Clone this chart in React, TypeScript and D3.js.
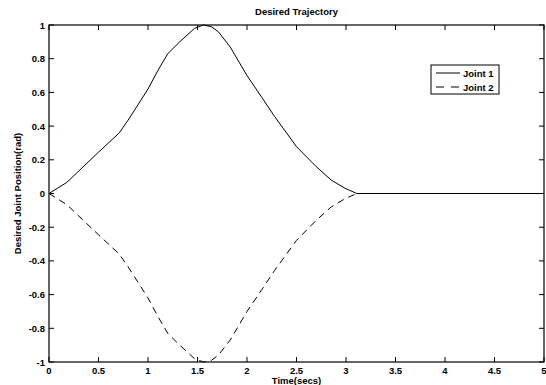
import React from "react";
import * as d3 from "d3";

const times = [0, 0.18, 0.5, 0.71, 0.8, 1.0, 1.1, 1.2, 1.32, 1.47, 1.56, 1.64, 1.71, 1.83, 1.92, 2.0, 2.15, 2.28, 2.5, 2.7, 2.85, 2.99, 3.11, 5];
const joint1 = [0, 0.066, 0.245, 0.36, 0.436, 0.62, 0.73, 0.83, 0.9, 0.98, 1.0, 0.99, 0.96, 0.87, 0.78, 0.7, 0.57, 0.456, 0.278, 0.159, 0.08, 0.031, 0.0, 0];
const joint2 = [0, -0.066, -0.245, -0.36, -0.436, -0.62, -0.73, -0.83, -0.9, -0.98, -1.0, -0.99, -0.96, -0.87, -0.78, -0.7, -0.57, -0.456, -0.278, -0.159, -0.08, -0.031, 0.0, 0];
const xTicks = [0, 0.5, 1, 1.5, 2, 2.5, 3, 3.5, 4, 4.5, 5];
const yTicks = [-1, -0.8, -0.6, -0.4, -0.2, 0, 0.2, 0.4, 0.6, 0.8, 1];
const seriesNames = ["Joint 1", "Joint 2"];

const W = 546, H = 385;
const L = 49, R = 544, T = 25, B = 362;
const font = "'Liberation Sans', Arial, Helvetica, sans-serif";

export default function App() {
  const x = d3.scaleLinear().domain([0, 5]).range([L, R]);
  const y = d3.scaleLinear().domain([-1, 1]).range([B, T]);
  const line = d3.line<number>().x((_, i) => x(times[i])).y((d) => y(d));
  const tk = 5;
  const fs = 9.5;
  return (
    <svg width={W} height={H} style={{ position: "absolute", left: 0, top: 0, background: "#fff" }}>
      <rect x={0} y={0} width={W} height={H} fill="#fff" />
      <path d={line(joint1) || ""} fill="none" stroke="#000" strokeWidth={1} />
      <path d={line(joint2) || ""} fill="none" stroke="#000" strokeWidth={1} strokeDasharray="7,5" />
      <rect x={L} y={T} width={R - L} height={B - T} fill="none" stroke="#000" strokeWidth={1.2} />
      {xTicks.map((t) => (
        <g key={"x" + t}>
          <line x1={x(t)} x2={x(t)} y1={B} y2={B - tk} stroke="#000" />
          <line x1={x(t)} x2={x(t)} y1={T} y2={T + tk} stroke="#000" />
          <text x={x(t)} y={374} textAnchor="middle" fontFamily={font} fontWeight="bold" fontSize={fs}>{t}</text>
        </g>
      ))}
      {yTicks.map((t) => (
        <g key={"y" + t}>
          <line x1={L} x2={L + tk} y1={y(t)} y2={y(t)} stroke="#000" />
          <line x1={R} x2={R - tk} y1={y(t)} y2={y(t)} stroke="#000" />
          <text x={45} y={y(t) + 3.5} textAnchor="end" fontFamily={font} fontWeight="bold" fontSize={fs}>{t}</text>
        </g>
      ))}
      <text x={(L + R) / 2} y={15} textAnchor="middle" fontFamily={font} fontWeight="bold" fontSize={fs}>Desired Trajectory</text>
      <text x={(L + R) / 2} y={384} textAnchor="middle" fontFamily={font} fontWeight="bold" fontSize={fs}>Time(secs)</text>
      <text transform={`translate(21,${(T + B) / 2}) rotate(-90)`} textAnchor="middle" fontFamily={font} fontWeight="bold" fontSize={fs}>Desired Joint Position(rad)</text>
      <g>
        <rect x={431} y={65} width={68} height={29} fill="#fff" stroke="#000" strokeWidth={1} />
        <line x1={436} x2={460} y1={73} y2={73} stroke="#000" />
        <line x1={436} x2={460} y1={87} y2={87} stroke="#000" strokeDasharray="8,7" />
        <text x={463} y={76.5} fontFamily={font} fontWeight="bold" fontSize={fs}>{seriesNames[0]}</text>
        <text x={463} y={90.5} fontFamily={font} fontWeight="bold" fontSize={fs}>{seriesNames[1]}</text>
      </g>
    </svg>
  );
}
